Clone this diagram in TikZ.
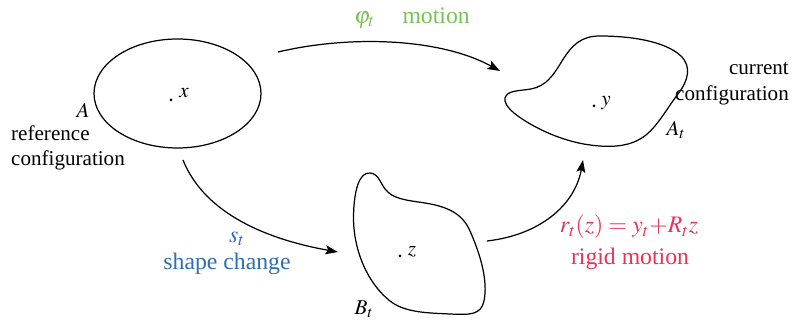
\documentclass[tikz,border=0pt]{standalone}
\usepackage{mathptmx}
\usepackage{fontspec}
\setmainfont{Liberation Serif}
\usetikzlibrary{shapes.geometric, arrows.meta, positioning}
\definecolor{motgreen}{HTML}{78C257}
\definecolor{shpblue}{HTML}{2F6DB5}
\definecolor{rigred}{HTML}{EA3259}

\begin{document}
\begin{tikzpicture}[
    every node/.style={font=\fontsize{12}{14.5}\selectfont},
    body/.style={line width=0.7pt},
    dot/.style={circle, fill, inner sep=0pt, minimum size=0.06cm},
    lbl/.style={font=\fontsize{13.5}{16}\selectfont, align=center},
    arr/.style={-{Stealth[length=2.5mm, width=1.8mm, inset=0.5mm]}, line width=0.7pt}
]
    \useasboundingbox (0,0) rectangle (15.96,6.42);

    % reference configuration
    \node[ellipse, draw, body, inner sep=0pt, minimum width=3.34cm,
          minimum height=2.18cm] (refA) at (3.55,4.55) {};
    \node[dot] (px) at (3.42,4.42) {};
    \node (lx) at (3.68,4.56) {$x$};
    \node (lA) at (1.66,4.22) {$A$};
    \node[anchor=west, align=left] (refcfg) at (0.10,3.46) {reference\\configuration};

    % current configuration
    \draw[body] (10.10,4.46) .. controls (10.14,4.62) and (10.40,4.60) .. (10.62,4.64)
        .. controls (10.92,4.70) and (11.06,4.90) .. (11.24,5.20)
        .. controls (11.44,5.52) and (11.62,5.70) .. (12.00,5.70)
        .. controls (12.60,5.70) and (13.30,5.60) .. (13.62,5.30)
        .. controls (13.84,5.08) and (13.76,4.80) .. (13.56,4.54)
        .. controls (13.30,4.20) and (13.10,3.80) .. (12.80,3.64)
        .. controls (12.50,3.46) and (12.10,3.48) .. (11.80,3.52)
        .. controls (11.20,3.60) and (10.60,3.90) .. (10.28,4.16)
        .. controls (10.14,4.28) and (10.08,4.38) .. (10.10,4.46) -- cycle;
    \node[dot] (py) at (11.88,4.30) {};
    \node (ly) at (12.12,4.36) {$y$};
    \node (lAt) at (13.52,3.82) {$A_t$};
    \node[anchor=east, align=right] (curcfg) at (15.90,4.74) {current\\configuration};

    % intermediate configuration
    \draw[body] (7.40,2.96) .. controls (7.18,2.98) and (7.08,2.60) .. (7.07,2.10)
        .. controls (7.06,1.50) and (7.30,0.80) .. (7.80,0.40)
        .. controls (8.10,0.16) and (8.60,0.16) .. (9.00,0.14)
        .. controls (9.40,0.12) and (9.62,0.12) .. (9.68,0.40)
        .. controls (9.76,0.80) and (9.62,1.30) .. (9.40,1.80)
        .. controls (9.26,2.12) and (9.00,2.28) .. (8.50,2.36)
        .. controls (8.10,2.42) and (7.86,2.44) .. (7.70,2.64)
        .. controls (7.60,2.78) and (7.56,2.95) .. (7.40,2.96) -- cycle;
    \node[dot] (pz) at (8.00,1.30) {};
    \node (lz) at (8.24,1.38) {$z$};
    \node (lBt) at (7.28,0.24) {$B_t$};

    % arrow ends
    \coordinate (m1) at (5.56,5.38);
    \coordinate (m2) at (10.00,5.00);
    \coordinate (s1) at (3.66,3.22);
    \coordinate (s2) at (6.76,1.38);
    \coordinate (r1) at (9.74,1.60);
    \coordinate (r2) at (11.66,3.22);

    \draw[arr] (m1) .. controls (7.00,5.72) and (8.80,5.66) .. (m2);
    \draw[arr] (s1) .. controls (4.10,2.12) and (5.40,1.62) .. (s2);
    \draw[arr] (r1) .. controls (10.80,1.72) and (11.50,2.32) .. (r2);

    % labels
    \node[lbl, motgreen, anchor=west] (mot) at (6.96,6.06) {$\varphi_t$\hspace{0.55cm}motion};
    \node[lbl, shpblue] (st) at (4.74,1.64) {$s_t$};
    \node[lbl, shpblue] (shp) at (4.54,1.14) {shape change};
    \node[lbl, rigred] (rt) at (12.58,1.88) {$r_t(z) = y_t{+}R_t z$};
    \node[lbl, rigred] (rig) at (12.60,1.24) {rigid motion};
\end{tikzpicture}
\end{document}
